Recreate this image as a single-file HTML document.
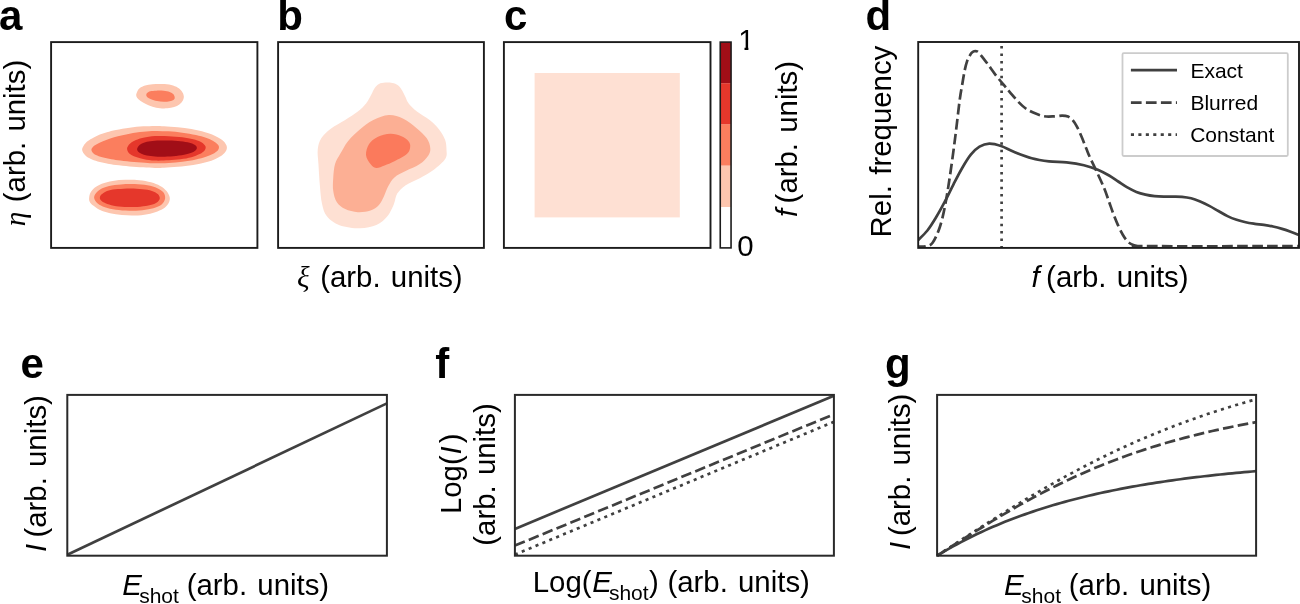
<!DOCTYPE html>
<html lang="en">
<head>
<meta charset="utf-8">
<title>Figure</title>
<style>
html,body{margin:0;padding:0;background:#fff;}
body{width:1300px;height:604px;overflow:hidden;}
svg{display:block;}
</style>
</head>
<body>
<svg width="1300" height="604" viewBox="0 0 1300 604">
<rect width="1300" height="604" fill="#fff"/>
<g id="pa">
<path d="M136.17 95.1C136.17 93.99 136.67 92.56 137.29 91.38C137.91 90.2 138.59 89.02 139.89 88.03C141.2 87.04 142.99 86.04 145.1 85.42C147.21 84.8 149.7 84.53 152.55 84.31C155.4 84.08 159.13 83.96 162.23 84.08C165.33 84.21 168.56 84.46 171.17 85.05C173.77 85.65 176.07 86.6 177.87 87.66C179.67 88.71 180.97 89.95 181.96 91.38C182.95 92.81 183.7 94.67 183.82 96.22C183.95 97.77 183.45 99.32 182.71 100.69C181.96 102.05 180.78 103.36 179.36 104.41C177.93 105.47 176.13 106.36 174.14 107.02C172.16 107.68 169.8 108.15 167.44 108.36C165.08 108.57 162.48 108.57 160 108.28C157.51 108 154.91 107.35 152.55 106.65C150.19 105.94 147.83 104.97 145.85 104.04C143.86 103.11 142.06 102.05 140.64 101.06C139.21 100.07 138.03 99.08 137.29 98.08C136.54 97.09 136.17 96.22 136.17 95.1Z" fill="#fdc6af"/>
<path d="M146.22 95.1C146.22 94.38 146.66 93.52 147.34 92.87C148.02 92.23 148.83 91.6 150.32 91.23C151.81 90.86 154.04 90.71 156.27 90.64C158.51 90.56 161.49 90.56 163.72 90.79C165.95 91.01 168.06 91.38 169.68 91.98C171.29 92.57 172.56 93.4 173.4 94.36C174.24 95.32 174.74 96.78 174.74 97.71C174.74 98.64 174.24 99.36 173.4 99.94C172.56 100.53 171.29 100.9 169.68 101.21C168.06 101.52 165.83 101.83 163.72 101.81C161.61 101.78 159.13 101.5 157.02 101.06C154.91 100.63 152.67 99.84 151.06 99.2C149.45 98.55 148.14 97.87 147.34 97.19C146.53 96.51 146.22 95.82 146.22 95.1Z" fill="#fb7e5e"/>
<path d="M83.19 146.39C83.83 145.25 84.71 143.93 85.92 142.75C87.13 141.57 88.5 140.5 90.47 139.29C92.44 138.08 95.02 136.64 97.75 135.47C100.48 134.3 103.81 133.19 106.85 132.28C109.88 131.37 112.15 130.77 115.95 130.01C119.74 129.25 125.05 128.34 129.6 127.73C134.14 127.13 139.01 126.67 143.24 126.37C147.48 126.07 151.52 125.94 155 125.91C158.48 125.88 160.31 125.96 164.1 126.19C167.89 126.41 173.2 126.79 177.75 127.28C182.3 127.76 186.85 128.27 191.4 129.1C195.95 129.93 201.25 131.22 205.05 132.28C208.84 133.35 211.41 134.26 214.14 135.47C216.87 136.68 219.53 138.2 221.42 139.56C223.32 140.93 224.61 142.37 225.52 143.66C226.43 144.95 226.81 146.08 226.88 147.3C226.96 148.51 226.73 149.65 225.97 150.94C225.22 152.23 224 153.74 222.33 155.03C220.67 156.32 218.69 157.46 215.96 158.67C213.23 159.88 209.75 161.25 205.96 162.31C202.16 163.37 197.92 164.28 193.22 165.04C188.52 165.8 182.6 166.41 177.75 166.86C172.9 167.32 167.89 167.59 164.1 167.77C160.3 167.95 158.46 168.03 154.98 167.95C151.51 167.88 147.47 167.57 143.24 167.32C139.01 167.06 134.14 166.78 129.6 166.41C125.05 166.03 119.74 165.53 115.95 165.04C112.15 164.56 109.88 164.1 106.85 163.49C103.81 162.89 100.48 162.21 97.75 161.4C95.02 160.6 92.44 159.58 90.47 158.67C88.5 157.76 87.13 156.93 85.92 155.94C84.71 154.96 83.83 153.82 83.19 152.76C82.55 151.7 82.1 150.63 82.1 149.57C82.1 148.51 82.55 147.53 83.19 146.39Z" fill="#fdc6af"/>
<path d="M92.29 147.75C92.82 146.99 93.35 146.31 94.56 145.48C95.78 144.64 97.52 143.69 99.57 142.75C101.62 141.81 104.12 140.82 106.85 139.84C109.58 138.85 112.15 137.86 115.95 136.83C119.74 135.8 125.05 134.48 129.6 133.65C134.14 132.81 139.01 132.28 143.24 131.83C147.48 131.37 150.77 130.99 155 130.92C159.23 130.84 164.1 131.07 168.65 131.37C173.2 131.68 177.75 132.13 182.3 132.74C186.85 133.35 192 134.18 195.95 135.01C199.89 135.85 203.07 136.76 205.96 137.74C208.84 138.73 211.26 139.79 213.23 140.93C215.21 142.07 216.83 143.51 217.78 144.57C218.74 145.63 218.97 146.31 218.97 147.3C218.97 148.28 218.74 149.42 217.78 150.48C216.83 151.54 215.21 152.61 213.23 153.67C211.26 154.73 208.84 155.87 205.96 156.85C203.07 157.84 199.89 158.75 195.95 159.58C192 160.42 186.85 161.3 182.3 161.86C177.75 162.42 173.2 162.72 168.65 162.95C164.1 163.18 158.46 163.22 154.98 163.22C151.51 163.22 151.27 163.15 147.79 162.95C144.32 162.75 138.69 162.45 134.14 162.04C129.6 161.63 124.29 160.98 120.5 160.49C116.7 160.01 114.43 159.66 111.4 159.13C108.36 158.6 104.88 157.99 102.3 157.31C99.72 156.62 97.52 155.79 95.93 155.03C94.34 154.27 93.5 153.59 92.74 152.76C91.99 151.92 91.45 150.86 91.38 150.03C91.3 149.19 91.76 148.51 92.29 147.75Z" fill="#fb7e5e"/>
<path d="M127.78 146.39C128.35 145.4 129.14 144.26 130.51 143.2C131.87 142.14 133.84 140.93 135.96 140.02C138.09 139.11 140.07 138.4 143.24 137.74C146.42 137.09 150.77 136.36 155 136.11C159.23 135.85 164.1 136 168.65 136.2C173.2 136.39 178.2 136.77 182.3 137.29C186.39 137.8 190.18 138.53 193.22 139.29C196.25 140.05 198.6 140.88 200.5 141.84C202.39 142.79 203.73 144.04 204.59 145.02C205.45 146.01 205.76 146.77 205.68 147.75C205.61 148.74 205.15 149.88 204.14 150.94C203.12 152 201.71 153.06 199.59 154.12C197.46 155.18 194.58 156.44 191.4 157.31C188.21 158.17 184.27 158.81 180.48 159.31C176.69 159.81 172.9 160.1 168.65 160.31C164.4 160.52 159.06 160.78 154.98 160.58C150.9 160.39 147.17 159.67 144.15 159.13C141.14 158.58 139 157.99 136.87 157.31C134.75 156.62 132.86 155.87 131.41 155.03C129.97 154.2 128.96 153.29 128.23 152.3C127.5 151.32 127.12 150.1 127.05 149.12C126.97 148.13 127.2 147.37 127.78 146.39Z" fill="#e5372b"/>
<path d="M138.24 146.39C138.97 145.48 139.98 144.6 141.42 143.84C142.86 143.08 144.62 142.35 146.88 141.84C149.15 141.32 151.37 140.96 155 140.75C158.63 140.53 164.4 140.49 168.65 140.56C172.9 140.64 176.99 140.84 180.48 141.2C183.97 141.57 187.15 142.11 189.58 142.75C192 143.38 193.82 144.19 195.04 145.02C196.25 145.86 196.78 146.84 196.86 147.75C196.93 148.66 196.4 149.65 195.49 150.48C194.58 151.32 193.29 152.04 191.4 152.76C189.5 153.47 187.15 154.18 184.12 154.76C181.08 155.34 176.84 155.9 173.2 156.21C169.56 156.53 165.32 156.62 162.28 156.67C159.24 156.72 157.55 156.68 154.98 156.49C152.42 156.29 149.14 155.93 146.88 155.49C144.62 155.05 142.86 154.46 141.42 153.85C139.98 153.24 138.97 152.61 138.24 151.85C137.51 151.09 137.06 150.21 137.06 149.3C137.06 148.39 137.51 147.3 138.24 146.39Z" fill="#a10e17"/>
<path d="M89.11 198.23C89.21 196.72 89.56 194.51 90.47 192.77C91.38 191.02 92.67 189.28 94.57 187.76C96.47 186.24 98.82 184.8 101.86 183.66C104.89 182.52 108.84 181.57 112.79 180.93C116.73 180.29 121.14 179.96 125.54 179.84C129.94 179.71 134.95 179.79 139.2 180.2C143.45 180.61 147.55 181.34 151.04 182.3C154.53 183.25 157.57 184.5 160.15 185.94C162.73 187.38 164.93 189.05 166.52 190.95C168.11 192.84 169.33 195.35 169.71 197.32C170.09 199.3 169.63 201.04 168.8 202.79C167.96 204.53 166.6 206.35 164.7 207.8C162.8 209.24 160.3 210.38 157.41 211.44C154.53 212.5 151.19 213.49 147.4 214.17C143.6 214.85 138.89 215.39 134.64 215.54C130.39 215.69 125.99 215.46 121.89 215.08C117.8 214.7 113.7 214.1 110.05 213.26C106.41 212.43 102.84 211.36 100.04 210.07C97.23 208.78 94.91 206.89 93.21 205.52C91.51 204.15 90.52 203.09 89.84 201.88C89.15 200.66 89 199.75 89.11 198.23Z" fill="#fdc6af"/>
<path d="M94.12 197.78C93.96 196.18 94.88 194.67 95.94 193.22C97 191.78 98.29 190.34 100.49 189.13C102.69 187.91 105.73 186.73 109.14 185.94C112.56 185.15 116.73 184.69 120.98 184.39C125.23 184.09 130.24 183.96 134.64 184.12C139.05 184.27 143.6 184.62 147.4 185.3C151.19 185.98 154.76 187.05 157.41 188.21C160.07 189.38 162.04 190.8 163.33 192.31C164.62 193.83 165.08 195.73 165.15 197.32C165.23 198.92 164.78 200.43 163.79 201.88C162.8 203.32 161.36 204.84 159.23 205.97C157.11 207.11 154.38 207.95 151.04 208.71C147.7 209.47 143.45 210.22 139.2 210.53C134.95 210.83 129.94 210.76 125.54 210.53C121.14 210.3 116.58 209.85 112.79 209.16C108.99 208.48 105.43 207.49 102.77 206.43C100.11 205.37 98.29 204.23 96.85 202.79C95.41 201.34 94.27 199.37 94.12 197.78Z" fill="#fb7e5e"/>
<path d="M99.85 197.78C99.9 196.79 100.46 195.61 101.4 194.59C102.34 193.57 103.6 192.51 105.5 191.68C107.4 190.84 109.75 190.08 112.79 189.58C115.82 189.08 119.77 188.82 123.72 188.67C127.66 188.52 132.52 188.47 136.47 188.67C140.41 188.87 144.21 189.2 147.4 189.85C150.58 190.51 153.59 191.49 155.59 192.59C157.6 193.68 158.81 195.17 159.42 196.41C160.02 197.66 159.87 198.92 159.23 200.05C158.6 201.19 157.41 202.33 155.59 203.24C153.77 204.15 151.34 204.91 148.31 205.52C145.27 206.13 141.32 206.66 137.38 206.89C133.43 207.11 128.57 207.08 124.63 206.89C120.68 206.69 116.89 206.31 113.7 205.7C110.51 205.09 107.6 204.11 105.5 203.24C103.41 202.38 102.07 201.42 101.13 200.51C100.19 199.6 99.81 198.76 99.85 197.78Z" fill="#e5372b"/>
</g>
<g id="pb">
<path d="M385.28 82.6C387.51 82.43 390.2 82.57 392.31 83.02C394.42 83.47 396.3 84.03 397.94 85.27C399.58 86.51 400.87 88.44 402.16 90.48C403.45 92.52 404.63 95.4 405.68 97.51C406.74 99.62 406.62 100.8 408.49 103.14C410.37 105.49 413.42 108.77 416.94 111.58C420.45 114.4 425.85 116.98 429.6 120.03C433.35 123.07 436.87 126.59 439.45 129.88C442.03 133.16 443.91 136.44 445.08 139.72C446.25 143.01 446.44 146.41 446.49 149.57C446.53 152.74 447.47 155.37 445.36 158.72C443.25 162.07 438.09 166.46 433.82 169.7C429.55 172.94 424.44 175.56 419.75 178.14C415.06 180.72 409.43 182.6 405.68 185.18C401.93 187.76 399.21 190.45 397.24 193.62C395.27 196.78 395.5 200.42 393.86 204.17C392.22 207.92 390.3 212.66 387.39 216.13C384.48 219.6 380.99 222.98 376.41 225C371.84 227.01 366.09 228.21 359.95 228.23C353.81 228.26 345.06 227.15 339.55 225.14C334.04 223.12 329.82 219.74 326.88 216.13C323.95 212.52 323.13 208.63 321.96 203.47C320.79 198.31 320.44 191.74 319.85 185.18C319.26 178.61 318.79 170 318.44 164.07C318.09 158.14 317.27 153.87 317.74 149.57C318.21 145.28 319.03 141.84 321.26 138.32C323.48 134.8 327.12 131.52 331.11 128.47C335.09 125.42 340.72 122.84 345.18 120.03C349.63 117.21 354.32 114.4 357.84 111.58C361.36 108.77 364.05 105.96 366.28 103.14C368.51 100.33 369.8 97.23 371.21 94.7C372.61 92.17 373.44 89.73 374.72 87.94C376.01 86.16 377.19 84.9 378.95 84.01C380.7 83.11 383.05 82.76 385.28 82.6Z" fill="#fee0d3"/>
<path d="M388.8 115.1C393.72 114.87 398.18 116.39 402.87 118.62C407.56 120.85 412.95 125.19 416.94 128.47C420.92 131.75 424.56 135.03 426.79 138.32C429.01 141.6 430.07 145.28 430.3 148.17C430.54 151.05 429.95 152.98 428.19 155.63C426.43 158.28 423.5 161.49 419.75 164.07C416 166.65 409.9 168.88 405.68 171.11C401.46 173.33 397.36 174.86 394.42 177.44C391.49 180.02 389.85 183.42 388.09 186.58C386.33 189.75 385.4 193.38 383.87 196.43C382.35 199.48 381.17 202.53 378.95 204.88C376.72 207.22 374.02 209.28 370.5 210.5C366.99 211.72 362.06 212.43 357.84 212.19C353.62 211.96 348.69 210.79 345.18 209.1C341.66 207.41 338.73 205.11 336.73 202.06C334.74 199.01 333.8 194.79 333.22 190.8C332.63 186.82 332.91 182.6 333.22 178.14C333.52 173.69 333.87 168.13 335.05 164.07C336.22 160.01 338.09 157.62 340.25 153.8C342.41 149.97 344.82 145.12 347.99 141.13C351.16 137.15 355.03 133.39 359.25 129.88C363.47 126.36 368.39 122.49 373.32 120.03C378.24 117.56 383.87 115.34 388.8 115.1Z" fill="#fcaf94"/>
<path d="M390.2 133.82C394.19 133.7 398.41 134.99 401.46 136.21C404.51 137.43 407.04 139.37 408.49 141.13C409.95 142.89 410.42 144.65 410.18 146.76C409.95 148.87 409.71 151.38 407.09 153.8C404.46 156.21 398.18 159.31 394.42 161.26C390.67 163.2 387.62 164.35 384.57 165.48C381.53 166.6 378.48 168.24 376.13 168.01C373.79 167.78 372.19 166.25 370.5 164.07C368.82 161.89 366.24 158.28 366 154.92C365.77 151.57 367.17 146.95 369.1 143.95C371.02 140.94 374.02 138.6 377.54 136.91C381.06 135.22 386.22 133.93 390.2 133.82Z" fill="#fb7a5c"/>
</g>
<rect x="534.6" y="73" width="145.2" height="144.4" fill="#fee0d3"/>
<rect x="720.25" y="42.1" width="10.8" height="41.4" fill="#a10e17"/>
<rect x="720.25" y="83.3" width="10.8" height="41.3" fill="#e5372b"/>
<rect x="720.25" y="124.4" width="10.8" height="41.4" fill="#fb7e5e"/>
<rect x="720.25" y="165.6" width="10.8" height="41.4" fill="#fdc6af"/>
<rect x="720.25" y="42.1" width="10.8" height="205.8" fill="none" stroke="#1c1c1c" stroke-width="1.6"/>
<clipPath id="cd"><rect x="918.2" y="42" width="380.8" height="205.9"/></clipPath>
<g clip-path="url(#cd)" fill="none" stroke="#404040" stroke-width="2.7">
<path d="M917.6 240.6C919.23 238.92 924.32 234.38 927.4 230.5C930.48 226.62 933.2 222.1 936.1 217.3C939 212.5 941.9 207.2 944.8 201.7C947.7 196.2 950.6 189.92 953.5 184.3C956.4 178.68 959.32 172.93 962.2 168C965.08 163.07 967.92 158.25 970.8 154.7C973.68 151.15 976.42 148.55 979.5 146.7C982.58 144.85 985.7 143.72 989.3 143.6C992.9 143.48 996.93 144.6 1001.1 146C1005.27 147.4 1009.2 149.97 1014.3 152C1019.4 154.03 1025.92 156.65 1031.7 158.2C1037.48 159.75 1043.2 160.6 1049 161.3C1054.8 162 1060.68 161.75 1066.5 162.4C1072.32 163.05 1078.68 163.98 1083.9 165.2C1089.12 166.42 1093.6 167.98 1097.8 169.7C1102 171.42 1105.7 173.53 1109.1 175.5C1112.5 177.47 1115.17 179.52 1118.2 181.5C1121.23 183.48 1124.27 185.67 1127.3 187.4C1130.33 189.13 1133.37 190.7 1136.4 191.9C1139.43 193.1 1142.47 193.9 1145.5 194.6C1148.53 195.3 1151.55 195.77 1154.6 196.1C1157.65 196.43 1160.75 196.52 1163.8 196.6C1166.85 196.68 1169.87 196.57 1172.9 196.6C1175.93 196.63 1178.97 196.52 1182 196.8C1185.03 197.08 1188.07 197.5 1191.1 198.3C1194.13 199.1 1197.17 200.33 1200.2 201.6C1203.23 202.87 1206.27 204.33 1209.3 205.9C1212.33 207.47 1215.37 209.3 1218.4 211C1221.43 212.7 1224.47 214.63 1227.5 216.1C1230.53 217.57 1233.57 218.77 1236.6 219.8C1239.63 220.83 1242.67 221.63 1245.7 222.3C1248.73 222.97 1251.77 223.37 1254.8 223.8C1257.83 224.23 1260.87 224.45 1263.9 224.9C1266.93 225.35 1269.97 225.83 1273 226.5C1276.03 227.17 1279.05 227.98 1282.1 228.9C1285.15 229.82 1288.48 230.98 1291.3 232C1294.12 233.02 1297.72 234.5 1299 235"/>
<path d="M918 246.6C919.33 246.53 923.57 246.85 926 246.2C928.43 245.55 930.33 245.77 932.6 242.7C934.87 239.63 937.57 233.75 939.6 227.8C941.63 221.85 943.07 215.7 944.8 207C946.53 198.3 948.27 187.2 950 175.6C951.73 164 953.58 150 955.2 137.4C956.82 124.8 958.53 108.78 959.7 100C960.87 91.22 961.37 89.65 962.2 84.7C963.03 79.75 963.87 74.27 964.7 70.3C965.53 66.33 966.37 63.3 967.2 60.9C968.03 58.5 968.97 57.23 969.7 55.9C970.43 54.57 970.87 53.67 971.6 52.9C972.33 52.13 973.18 51.55 974.1 51.3C975.02 51.05 976.02 50.8 977.1 51.4C978.18 52 978.87 52.83 980.6 54.9C982.33 56.97 985.02 60.48 987.5 63.8C989.98 67.12 992.68 71.15 995.5 74.8C998.32 78.45 1001.98 82.78 1004.4 85.7C1006.82 88.62 1007.72 89.65 1010 92.3C1012.28 94.95 1015.58 98.98 1018.1 101.6C1020.62 104.22 1022.58 106.17 1025.1 108C1027.62 109.83 1030.12 111.23 1033.2 112.6C1036.28 113.97 1040.12 115.57 1043.6 116.2C1047.08 116.83 1051 116.5 1054.1 116.4C1057.2 116.3 1059.88 115.57 1062.2 115.6C1064.52 115.63 1066.27 115.85 1068 116.6C1069.73 117.35 1071.07 118.35 1072.6 120.1C1074.13 121.85 1075.65 124.2 1077.2 127.1C1078.75 130 1080.35 133.83 1081.9 137.5C1083.45 141.17 1085.08 145.62 1086.5 149.1C1087.92 152.58 1088.52 154.25 1090.4 158.4C1092.28 162.55 1095.43 168.87 1097.8 174C1100.17 179.13 1102.72 184.55 1104.6 189.2C1106.48 193.85 1107.58 197.65 1109.1 201.9C1110.62 206.15 1112.18 210.75 1113.7 214.7C1115.22 218.65 1116.68 222.27 1118.2 225.6C1119.72 228.93 1121.28 232.12 1122.8 234.7C1124.32 237.28 1125.78 239.48 1127.3 241.1C1128.82 242.72 1130.38 243.62 1131.9 244.4C1133.42 245.18 1134.22 245.5 1136.4 245.8C1138.58 246.1 1117.9 246.13 1145 246.2C1172.1 246.27 1273.33 246.2 1299 246.2" stroke-dasharray="10.7 4.3" stroke-dashoffset="3"/>
<path d="M1001.6 46.1V248" stroke-dasharray="2.5 4.9"/>
</g>
<rect x="1122.5" y="53.2" width="165.3" height="102.8" rx="1.2" fill="#fff" stroke="#cccccc" stroke-width="1.8"/>
<g fill="none" stroke="#404040" stroke-width="2.7">
<path d="M1130.9 70.2H1177"/>
<path d="M1130.9 102.6H1177" stroke-dasharray="10.7 4.3"/>
<path d="M1130.9 134.6H1177" stroke-dasharray="3.1 4.35"/>
</g>
<g fill="none" stroke="#404040" stroke-width="2.7">
<path d="M67.3 554.8L386.9 403.4"/>
<path d="M514.9 528.9L833.9 395.8"/>
<path d="M514.9 545.6L833.9 414.3" stroke-dasharray="10.7 4.3"/>
<path d="M514.9 554.6L833.9 421.8" stroke-dasharray="3.1 4.35"/>
<path d="M937.1 555.7L941.09 553.29L945.08 550.94L949.06 548.64L953.05 546.4L957.04 544.22L961.02 542.09L965.01 540.02L969 537.99L972.99 536.02L976.98 534.09L980.96 532.21L984.95 530.38L988.94 528.59L992.93 526.85L996.91 525.15L1000.9 523.49L1004.89 521.87L1008.88 520.3L1012.86 518.76L1016.85 517.26L1020.84 515.79L1024.83 514.36L1028.81 512.97L1032.8 511.61L1036.79 510.29L1040.78 509L1044.76 507.74L1048.75 506.51L1052.74 505.31L1056.72 504.14L1060.71 503L1064.7 501.89L1068.69 500.8L1072.67 499.75L1076.66 498.71L1080.65 497.71L1084.64 496.73L1088.62 495.77L1092.61 494.83L1096.6 493.92L1100.59 493.04L1104.58 492.17L1108.56 491.32L1112.55 490.5L1116.54 489.7L1120.53 488.91L1124.51 488.15L1128.5 487.4L1132.49 486.67L1136.47 485.96L1140.46 485.27L1144.45 484.6L1148.44 483.94L1152.42 483.3L1156.41 482.67L1160.4 482.06L1164.39 481.46L1168.38 480.88L1172.36 480.32L1176.35 479.76L1180.34 479.22L1184.33 478.7L1188.31 478.19L1192.3 477.69L1196.29 477.2L1200.28 476.72L1204.26 476.26L1208.25 475.8L1212.24 475.36L1216.22 474.93L1220.21 474.51L1224.2 474.1L1228.19 473.7L1232.17 473.31L1236.16 472.93L1240.15 472.56L1244.14 472.2L1248.12 471.85L1252.11 471.5L1256.1 471.17"/>
<path d="M937.1 555.7L941.09 553.15L945.08 550.6L949.06 548.05L953.05 545.51L957.04 542.97L961.02 540.45L965.01 537.93L969 535.42L972.99 532.92L976.98 530.44L980.96 527.98L984.95 525.53L988.94 523.09L992.93 520.68L996.91 518.29L1000.9 515.92L1004.89 513.57L1008.88 511.24L1012.86 508.94L1016.85 506.67L1020.84 504.42L1024.83 502.2L1028.81 500L1032.8 497.84L1036.79 495.7L1040.78 493.59L1044.76 491.51L1048.75 489.47L1052.74 487.45L1056.72 485.46L1060.71 483.51L1064.7 481.58L1068.69 479.69L1072.67 477.83L1076.66 476L1080.65 474.21L1084.64 472.44L1088.62 470.71L1092.61 469L1096.6 467.33L1100.59 465.69L1104.58 464.08L1108.56 462.51L1112.55 460.96L1116.54 459.44L1120.53 457.95L1124.51 456.49L1128.5 455.06L1132.49 453.66L1136.47 452.29L1140.46 450.95L1144.45 449.63L1148.44 448.34L1152.42 447.08L1156.41 445.84L1160.4 444.63L1164.39 443.44L1168.38 442.28L1172.36 441.15L1176.35 440.04L1180.34 438.95L1184.33 437.88L1188.31 436.84L1192.3 435.82L1196.29 434.82L1200.28 433.84L1204.26 432.89L1208.25 431.95L1212.24 431.04L1216.22 430.14L1220.21 429.27L1224.2 428.41L1228.19 427.57L1232.17 426.75L1236.16 425.94L1240.15 425.16L1244.14 424.39L1248.12 423.63L1252.11 422.9L1256.1 422.17" stroke-dasharray="10.7 4.3"/>
<path d="M937.1 555.7L941.09 553.09L945.08 550.48L949.06 547.87L953.05 545.26L957.04 542.66L961.02 540.06L965.01 537.47L969 534.89L972.99 532.31L976.98 529.74L980.96 527.18L984.95 524.63L988.94 522.09L992.93 519.57L996.91 517.05L1000.9 514.55L1004.89 512.07L1008.88 509.59L1012.86 507.14L1016.85 504.7L1020.84 502.28L1024.83 499.87L1028.81 497.49L1032.8 495.12L1036.79 492.77L1040.78 490.44L1044.76 488.14L1048.75 485.85L1052.74 483.59L1056.72 481.34L1060.71 479.12L1064.7 476.92L1068.69 474.75L1072.67 472.6L1076.66 470.47L1080.65 468.36L1084.64 466.28L1088.62 464.22L1092.61 462.19L1096.6 460.18L1100.59 458.2L1104.58 456.24L1108.56 454.31L1112.55 452.4L1116.54 450.51L1120.53 448.65L1124.51 446.82L1128.5 445.01L1132.49 443.22L1136.47 441.46L1140.46 439.72L1144.45 438.01L1148.44 436.32L1152.42 434.66L1156.41 433.02L1160.4 431.41L1164.39 429.82L1168.38 428.25L1172.36 426.71L1176.35 425.19L1180.34 423.69L1184.33 422.21L1188.31 420.76L1192.3 419.33L1196.29 417.93L1200.28 416.54L1204.26 415.18L1208.25 413.84L1212.24 412.51L1216.22 411.22L1220.21 409.94L1224.2 408.68L1228.19 407.44L1232.17 406.22L1236.16 405.02L1240.15 403.84L1244.14 402.68L1248.12 401.54L1252.11 400.42L1256.1 399.32" stroke-dasharray="3.1 4.35"/>
</g>
<rect x="51.1" y="42.1" width="206.3" height="205.8" fill="none" stroke="#1c1c1c" stroke-width="1.9"/>
<rect x="278.1" y="42.1" width="205.8" height="205.8" fill="none" stroke="#1c1c1c" stroke-width="1.9"/>
<rect x="503.9" y="42.1" width="206.6" height="205.8" fill="none" stroke="#1c1c1c" stroke-width="1.9"/>
<rect x="918.2" y="42" width="380.8" height="205.9" fill="none" stroke="#1c1c1c" stroke-width="1.9"/>
<rect x="67.3" y="394.9" width="319.6" height="160.8" fill="none" stroke="#2a2a2a" stroke-width="2.0"/>
<rect x="514.9" y="394.9" width="319" height="160.8" fill="none" stroke="#2a2a2a" stroke-width="2.0"/>
<rect x="937.1" y="394.9" width="319" height="160.8" fill="none" stroke="#2a2a2a" stroke-width="2.0"/>
<g font-family="'Liberation Sans', Arial, Helvetica, sans-serif" fill="#000">
<g font-weight="bold" font-size="42">
<text x="-0.9" y="30">a</text>
<text x="277.3" y="30">b</text>
<text x="504" y="30">c</text>
<text x="865.5" y="30">d</text>
<text x="20.4" y="377.9">e</text>
<text x="435.3" y="377.9">f</text>
<text x="884.9" y="377.9">g</text>
</g>
<g font-size="29.4">
<text transform="translate(25 226.3) rotate(-90)"><tspan font-family="'Liberation Serif', 'DejaVu Serif', serif" font-style="italic">η</tspan></text>
<text transform="translate(25 202.2) rotate(-90)">(arb.<tspan dx="2"> units)</tspan></text>
<text x="296.9" y="286.8"><tspan font-family="'Liberation Serif', 'DejaVu Serif', serif" font-style="italic">ξ</tspan></text>
<text x="320.2" y="286.8">(arb.<tspan dx="2"> units)</tspan></text>
<clipPath id="c1"><path d="M736 25H748.4V52H744.5V40H736Z"/></clipPath>
<text x="738.2" y="49.8" clip-path="url(#c1)">1</text>
<text x="737.2" y="256">0</text>
<text transform="translate(796.9 216.9) rotate(-90)"><tspan font-style="italic">f</tspan></text>
<text transform="translate(796.9 203.4) rotate(-90)">(arb.<tspan dx="2"> units)</tspan></text>
<text transform="translate(891.3 237.4) rotate(-90)">Rel.<tspan dx="2.2"> frequency</tspan></text>
<text x="1031.5" y="287.3"><tspan font-style="italic">f</tspan></text>
<text x="1046.1" y="287.3">(arb.<tspan dx="2"> units)</tspan></text>
<text transform="translate(45.9 551.9) rotate(-90)"><tspan font-style="italic">I</tspan></text>
<text transform="translate(45.9 537.6) rotate(-90)">(arb.<tspan dx="2"> units)</tspan></text>
<text x="122.2" y="594.6"><tspan font-style="italic">E</tspan></text>
<text x="139.2" y="602.8" font-size="21">shot</text>
<text x="186.7" y="594.6">(arb.<tspan dx="2"> units)</tspan></text>
<text transform="translate(461 514.1) rotate(-90)">Log(<tspan font-style="italic" dx="0.8">I</tspan><tspan dx="3">)</tspan></text>
<text transform="translate(495 545.7) rotate(-90)">(arb.<tspan dx="2"> units)</tspan></text>
<text x="532.7" y="591.9">Log(</text>
<text x="592.2" y="591.9"><tspan font-style="italic">E</tspan></text>
<text x="608.9" y="600.1" font-size="21">shot</text>
<text x="649.1" y="591.9">)</text>
<text x="667.4" y="591.9">(arb.<tspan dx="2"> units)</tspan></text>
<text transform="translate(910.3 549.9) rotate(-90)"><tspan font-style="italic">I</tspan></text>
<text transform="translate(910.3 536.1) rotate(-90)">(arb.<tspan dx="2"> units)</tspan></text>
<text x="1004.1" y="594.8"><tspan font-style="italic">E</tspan></text>
<text x="1021.3" y="603" font-size="21">shot</text>
<text x="1068.8" y="594.8">(arb.<tspan dx="2"> units)</tspan></text>
</g>
<g font-size="21">
<text x="1190.4" y="77.8">Exact</text>
<text x="1190.4" y="110">Blurred</text>
<text x="1190.2" y="141.8">Constant</text>
</g>
</g>
</svg>
</body>
</html>
